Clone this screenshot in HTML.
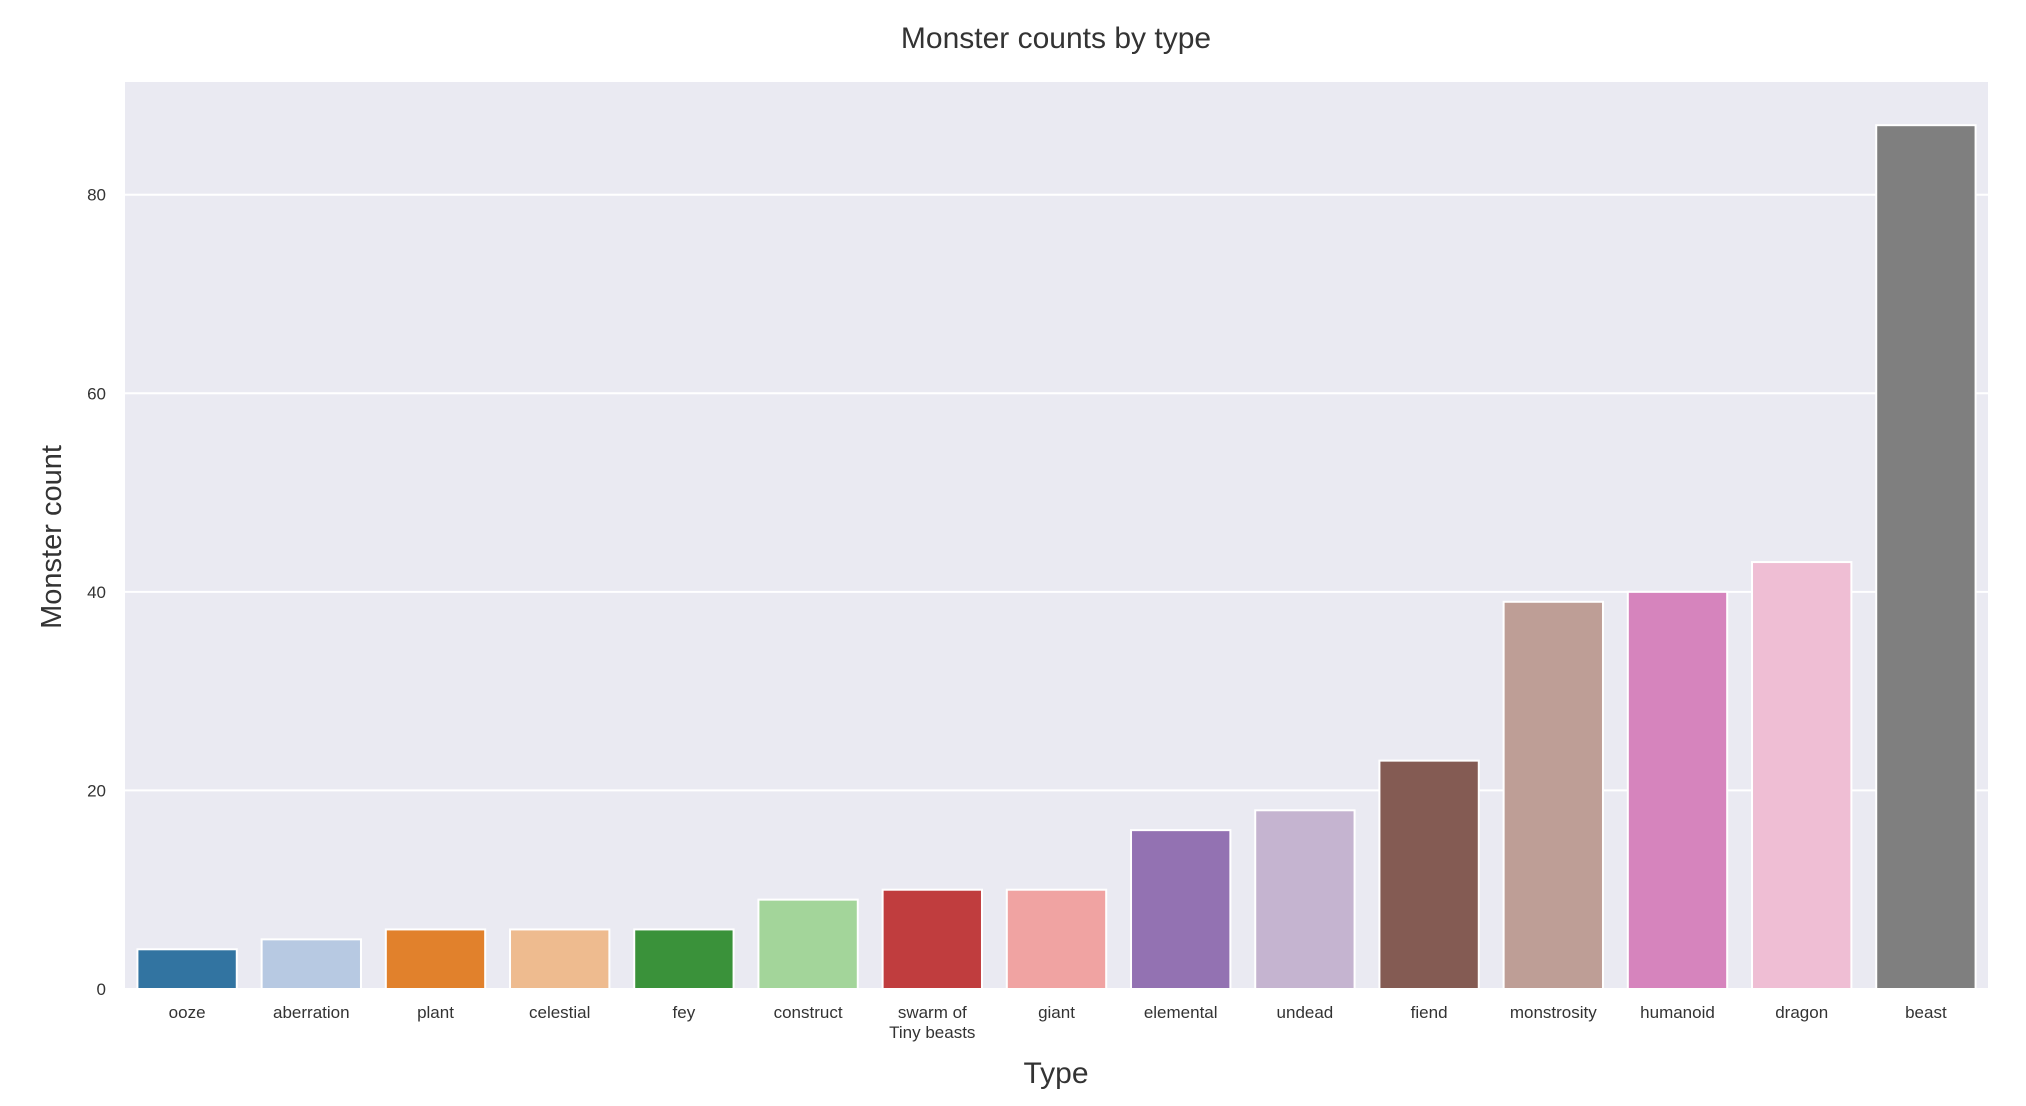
<!DOCTYPE html>
<html><head><meta charset="utf-8">
<style>
html,body{margin:0;padding:0;background:#fff;width:2026px;height:1106px;overflow:hidden}
svg{display:block}
text{font-family:"Liberation Sans",Arial,sans-serif;fill:#333}
</style></head>
<body>
<svg id="chart" width="2026" height="1106" viewBox="0 0 2026 1106" xmlns="http://www.w3.org/2000/svg">
<rect x="125" y="82" width="1863" height="907" fill="#eaeaf2"/>
<g id="grid"></g>
<g id="bars"></g>
<g id="yticks"></g>
<g id="xticks"></g>
<text x="1056" y="48" font-size="30" text-anchor="middle">Monster counts by type</text>
<text x="0" y="0" font-size="29" text-anchor="middle" transform="translate(61,537) rotate(-90)">Monster count</text>
<text x="1056" y="1083" font-size="30" text-anchor="middle">Type</text>
</svg>
<script>
const categories = ["ooze","aberration","plant","celestial","fey","construct","swarm of\nTiny beasts","giant","elemental","undead","fiend","monstrosity","humanoid","dragon","beast"];
const counts = [4,5,6,6,6,9,10,10,16,18,23,39,40,43,87];
const colors = ["#3274a1","#b7c9e2","#e1812c","#eebb8f","#3a923a","#a3d59a","#c03d3e","#f0a3a2","#9372b2","#c5b4d0","#845b53","#be9e96","#d684bd","#efbed4","#7f7f7f"];
const yTicks = [0,20,40,60,80];

const NS = "http://www.w3.org/2000/svg";
const plotL = 125, plotR = 1988, plotT = 82, plotB = 989;
const yMax = Math.max(...counts) * 1.05;
const band = (plotR - plotL) / categories.length;
function xScale(i){ return plotL + band * (i + 0.5); }
function yScale(v){ return plotB - (v / yMax) * (plotB - plotT); }
function mk(tag, attrs){ const e = document.createElementNS(NS, tag); for (const k in attrs) e.setAttribute(k, attrs[k]); return e; }

const grid = document.getElementById("grid");
const yt = document.getElementById("yticks");
yTicks.forEach(t => {
  const y = yScale(t);
  const l = mk("line", {x1: plotL, x2: plotR, y1: y, y2: y, stroke: "#ffffff", "stroke-width": 2});
  
  
  grid.appendChild(l);
  const tx = mk("text", {x: 106, y: y + 6, "font-size": 17, "text-anchor": "end"});
  tx.textContent = t;
  
  
  yt.appendChild(tx);
});

const bars = document.getElementById("bars");
const xt = document.getElementById("xticks");
const bw = band * 0.8;
categories.forEach((c, i) => {
  const cx = xScale(i);
  const y = yScale(counts[i]);
  const r = mk("rect", {x: cx - bw/2, y: y, width: bw, height: plotB - y, fill: colors[i], stroke: "#ffffff", "stroke-width": 2});
  
  
  bars.appendChild(r);
  const lines = c.split("\n");
  lines.forEach((ln, j) => {
    const tx = mk("text", {x: cx, y: 1018 + j * 20, "font-size": 17, "text-anchor": "middle"});
    tx.textContent = ln;
    
    
    xt.appendChild(tx);
  });
});
</script>
</body></html>
